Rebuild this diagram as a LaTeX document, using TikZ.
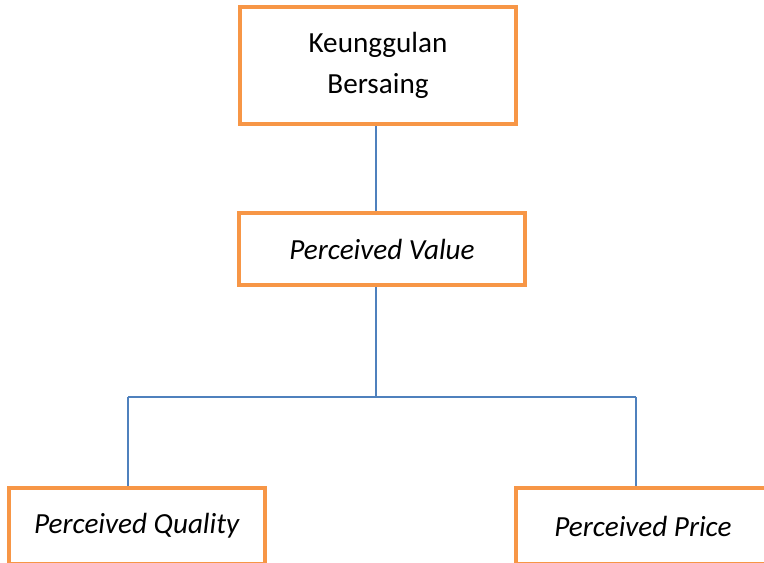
\documentclass[tikz,border=0pt]{standalone}
\usepackage{fontspec}
\setmainfont{Carlito}
\usepackage{tikz}
\usetikzlibrary{positioning, calc}

\definecolor{boxorange}{RGB}{247,150,70}
\definecolor{lineblue}{RGB}{79,129,189}

\begin{document}
\begin{tikzpicture}[x=0.02cm, y=-0.02cm,
    box/.style={draw=boxorange, line width=2.3pt, fill=white, align=center,
      inner sep=0pt, font=\fontsize{16.6}{23.2}\selectfont},
    link/.style={draw=lineblue, line width=0.9pt}]
  \useasboundingbox (0,0) rectangle (764,562);
  % Boxes
  \node[box, minimum width=5.52cm, minimum height=2.34cm] (kb) at (378,65.5) {Keunggulan\\Bersaing};
  \node[box, minimum width=5.72cm, minimum height=1.44cm] (pv) at (382,249) {\textit{Perceived Value}};
  \node[box, minimum width=5.12cm, minimum height=1.52cm] (pq) at (137,526) {\textit{Perceived Quality}};
  \node[box, minimum width=5.08cm, minimum height=1.52cm] (pp) at (643,526) {\textit{Perceived Price}};
  % Junctions
  \coordinate (mid) at (376,397);
  \coordinate (jl) at (128,397);
  \coordinate (jr) at (636,397);
  % Connectors
  \draw[link] (kb.south -| mid) -- (pv.north -| mid);
  \draw[link] (pv.south -| mid) -- (mid);
  \draw[link] (jl) -- (jr);
  \draw[link] (jl) -- (jl |- pq.north);
  \draw[link] (jr) -- (jr |- pp.north);
\end{tikzpicture}
\end{document}
